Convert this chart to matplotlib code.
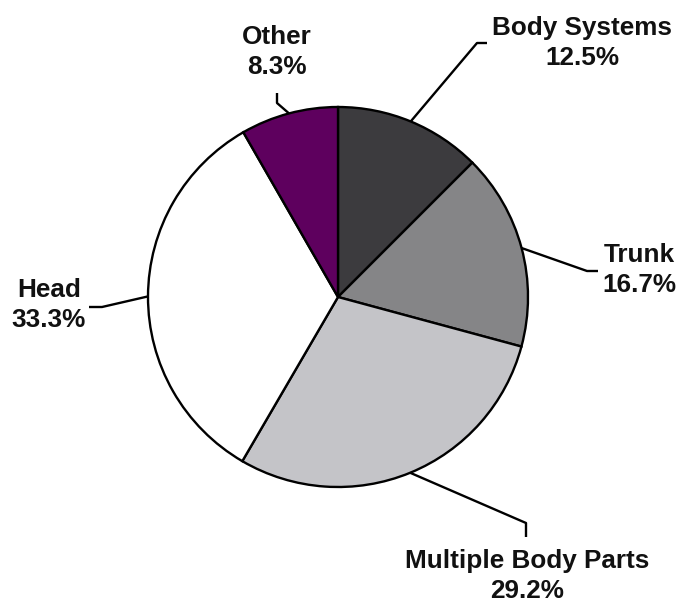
import numpy as np
import matplotlib
matplotlib.use('Agg')
import matplotlib.pyplot as plt

# data
labels = ['Body Systems', 'Trunk', 'Multiple Body Parts', 'Head', 'Other']
shares = [12.5, 16.7, 29.2, 33.3, 8.3]
colors = ['#3c3b3e', '#858587', '#c4c4c8', '#ffffff', '#5e005e']

# layout (pixel coords, y down)
center = (338, 297)
radius = 190
elbows = [(477, 43), (587, 271), (526, 523), (102, 307), (277, 103)]
ends = [(487, 43), (598, 271), (526, 537), (89, 307), (277, 93)]
text_pos = [(582, 43), (639, 270), (527, 576), (49, 305), (277, 52)]

fig = plt.figure(figsize=(6.8, 6.03), dpi=100)
ax = fig.add_axes([0, 0, 1, 1])

# y axis is inverted, so counterclock=True draws clockwise on screen
wedges, _ = ax.pie(shares, colors=colors, startangle=-90, counterclock=True,
                   center=center, radius=radius, frame=True,
                   wedgeprops=dict(edgecolor='black', linewidth=1.7))
ax.set_xlim(0, 680)
ax.set_ylim(603, 0)
ax.set_aspect('equal')
ax.axis('off')

for w, lab, s, el, en, tp in zip(wedges, labels, shares, elbows, ends, text_pos):
    mid = np.deg2rad((w.theta1 + w.theta2) / 2)
    ax_x = center[0] + radius * np.cos(mid)
    ax_y = center[1] + radius * np.sin(mid)
    ax.plot([ax_x, el[0], en[0]], [ax_y, el[1], en[1]], color='black', lw=1.7,
            solid_capstyle='butt')
    ax.text(tp[0], tp[1], '%s\n%.1f%%' % (lab, s), ha='center', va='center',
            multialignment='center', fontsize=18.8, fontweight='bold',
            family='Liberation Sans', color='#111111', linespacing=1.3)

fig.savefig('out.png', dpi=100)
